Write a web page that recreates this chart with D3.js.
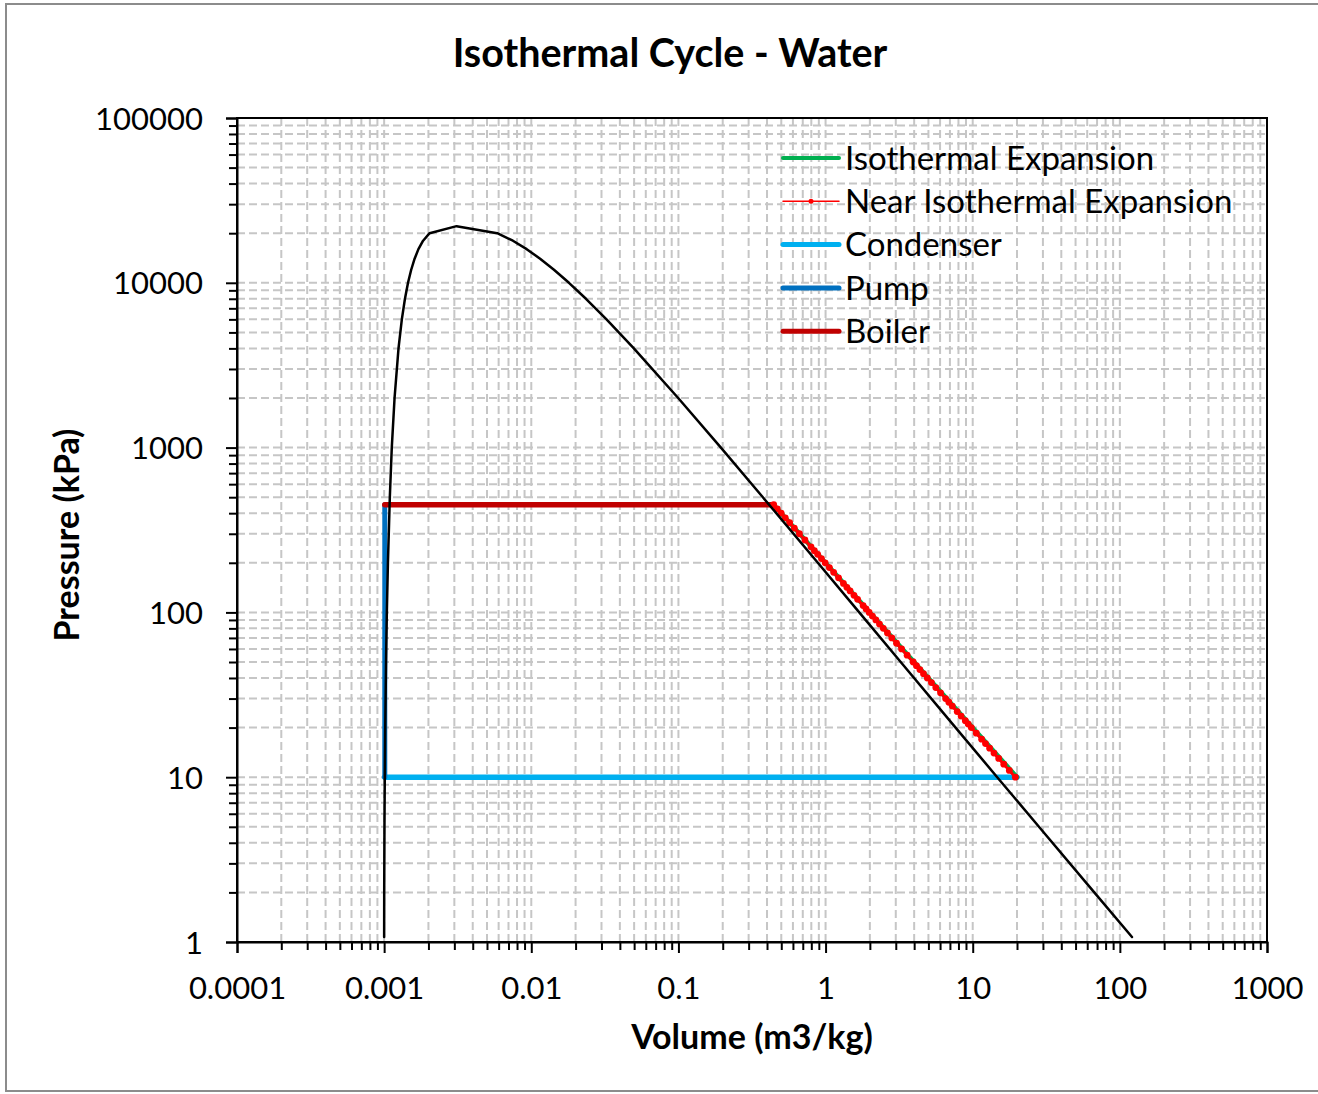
<!DOCTYPE html>
<html>
<head>
<meta charset="utf-8">
<script src="https://cdn.jsdelivr.net/npm/d3@7"></script>
<style>
  html, body { margin: 0; padding: 0; background: #fff; }
  svg { display: block; }
  text { font-family: Lato, "Liberation Sans", sans-serif; fill: #000; }
</style>
</head>
<body>
<svg id="chart" width="1318" height="1094"></svg>
<script>
// ---- Saturation dome of water (pressure table) ----
const satP  = [1.073, 2, 5, 10, 20, 50, 100, 200, 500, 1000, 2000, 4000, 6000, 8000, 10000, 12000, 14000, 16000, 18000, 20000];
const satVf = [0.001000, 0.001001, 0.001005, 0.001010, 0.001017, 0.001030, 0.001043, 0.001061, 0.001093, 0.001127,
               0.001177, 0.001252, 0.001319, 0.001385, 0.001453, 0.001527, 0.001611, 0.001710, 0.001840, 0.002038];
const satVg = [120.9, 66.99, 28.19, 14.67, 7.649, 3.240, 1.694, 0.8858, 0.3748, 0.1944,
               0.09959, 0.04978, 0.03245, 0.02353, 0.01803, 0.01426, 0.01148, 0.00931, 0.007499, 0.005862];
const critP = 22064;
const critV = 0.003106;

// ---- Cycle legs ----
const isoV = [0.444, 20];
const isoP = [450, 10];

const nearIsoP = [450, 425, 400, 375, 350, 325, 300, 275, 250, 237, 225, 212, 200, 187, 175, 162, 150, 142, 135, 127,
                  120, 110, 105, 100, 95, 90, 85, 80, 75, 70, 65, 60, 55, 50, 47.5, 45, 42.5, 40, 37.5, 35,
                  32.5, 30, 28.5, 27, 25, 23.5, 22, 21, 20, 18.5, 17, 16, 15, 14, 13, 12, 11, 10];
const nearIsoV = [0.444, 0.470, 0.4991, 0.5322, 0.5699, 0.6135, 0.6642, 0.7242, 0.7961, 0.8395, 0.8840, 0.9378, 0.9937,
                  1.062, 1.135, 1.225, 1.3225, 1.396, 1.468, 1.560,
                  1.651, 1.800, 1.885, 1.979, 2.082, 2.197, 2.325, 2.469, 2.633, 2.820, 3.035, 3.286, 3.584, 3.939,
                  4.145, 4.374, 4.629, 4.916, 5.242, 5.614,
                  6.043, 6.543, 6.885, 7.265, 7.842, 8.340, 8.905, 9.326, 9.788, 10.58, 11.50, 12.22, 13.03, 13.95,
                  15.02, 16.26, 17.73, 19.49];

const condV = [20, 0.00101];
const condP = [10, 10];

const pumpV = [0.00101, 0.00101];
const pumpP = [10, 450];

const boilerV = [0.00101, 0.444];
const boilerP = [450, 450];

// ---- Axes ----
const xMajor = [1e-4, 1e-3, 1e-2, 1e-1, 1, 10, 100, 1000];
const xTickLabels = ["0.0001", "0.001", "0.01", "0.1", "1", "10", "100", "1000"];
const yMajor = [1, 10, 100, 1000, 10000, 100000];
const yTickLabels = ["1", "10", "100", "1000", "10000", "100000"];
const minorSteps = [2, 3, 4, 5, 6, 7, 8, 9];

const legendItems = [
  { name: "Isothermal Expansion", color: "#00B050", width: 4, marker: false },
  { name: "Near Isothermal Expansion", color: "#FF0000", width: 1.5, marker: true },
  { name: "Condenser", color: "#00B0F0", width: 5, marker: false },
  { name: "Pump", color: "#0070C0", width: 5, marker: false },
  { name: "Boiler", color: "#C00000", width: 5, marker: false }
];

const svg = d3.select("#chart");
const L = 237, R = 1267, T = 118, B = 942;

const x = d3.scaleLog().domain([1e-4, 1e3]).range([L, R]);
const y = d3.scaleLog().domain([1, 1e5]).range([B, T]);

const minorOf = majors => {
  const out = [];
  majors.slice(0, -1).forEach(m => minorSteps.forEach(s => out.push(m * s)));
  return out;
};
const xMinor = minorOf(xMajor);
const yMinor = minorOf(yMajor);

// outer chart frame
svg.append("rect")
  .attr("x", 6).attr("y", 4).attr("width", 1330).attr("height", 1087)
  .attr("fill", "#fff").attr("stroke", "#8c8c8c").attr("stroke-width", 2);

// gridlines (major + minor, dashed)
const grid = svg.append("g").attr("stroke", "#c6c6c6").attr("stroke-width", 2)
  .attr("stroke-dasharray", "8,4").attr("fill", "none");
xMajor.concat(xMinor).forEach(v => {
  grid.append("line").attr("x1", x(v)).attr("x2", x(v)).attr("y1", T).attr("y2", B);
});
yMajor.concat(yMinor).forEach(v => {
  grid.append("line").attr("x1", L).attr("x2", R).attr("y1", y(v)).attr("y2", y(v));
});

// plot box
svg.append("rect")
  .attr("x", L).attr("y", T).attr("width", R - L).attr("height", B - T)
  .attr("fill", "none").attr("stroke", "#000").attr("stroke-width", 2);

const tickFont = "Lato, 'Liberation Sans', sans-serif";

// x axis
const xAxisMinor = d3.axisBottom(x).tickValues(xMinor).tickSize(8).tickFormat("");
const xAxis = d3.axisBottom(x).tickValues(xMajor).tickSize(11)
  .tickFormat((d, i) => xTickLabels[i]);
svg.append("g").attr("transform", `translate(0,${B})`).call(xAxisMinor)
  .call(g => g.select(".domain").remove())
  .call(g => g.selectAll("line").attr("stroke", "#000").attr("stroke-width", 2));
const gx = svg.append("g").attr("transform", `translate(0,${B})`).call(xAxis);
gx.select(".domain").attr("stroke", "#000").attr("stroke-width", 2);
gx.selectAll("line").attr("stroke", "#000").attr("stroke-width", 2);
gx.selectAll("text").attr("y", 57).attr("dy", null)
  .style("font-size", "31px").style("font-family", tickFont).attr("fill", "#000");

// y axis
const yAxisMinor = d3.axisLeft(y).tickValues(yMinor).tickSize(8).tickFormat("");
const yAxis = d3.axisLeft(y).tickValues(yMajor).tickSize(11)
  .tickFormat((d, i) => yTickLabels[i]);
svg.append("g").attr("transform", `translate(${L},0)`).call(yAxisMinor)
  .call(g => g.select(".domain").remove())
  .call(g => g.selectAll("line").attr("stroke", "#000").attr("stroke-width", 2));
const gy = svg.append("g").attr("transform", `translate(${L},0)`).call(yAxis);
gy.select(".domain").attr("stroke", "#000").attr("stroke-width", 2);
gy.selectAll("line").attr("stroke", "#000").attr("stroke-width", 2);
gy.selectAll("text").attr("x", -34).attr("dy", "0.36em")
  .style("font-size", "31px").style("font-family", tickFont).attr("fill", "#000");

// series
const line = d3.line().x(d => x(d[0])).y(d => y(d[1]));
const zipPts = (vs, ps) => vs.map((v, i) => [v, ps[i]]);

function drawLine(pts, color, width) {
  svg.append("path").datum(pts)
    .attr("d", line)
    .attr("fill", "none")
    .attr("stroke", color)
    .attr("stroke-width", width)
    .attr("stroke-linecap", "round")
    .attr("stroke-linejoin", "round");
}

drawLine(zipPts(condV, condP), "#00B0F0", 5.5);
drawLine(zipPts(pumpV, pumpP), "#0070C0", 5);
drawLine(zipPts(boilerV, boilerP), "#C00000", 5.5);
drawLine(zipPts(isoV, isoP), "#00B050", 4.5);

const nearPts = zipPts(nearIsoV, nearIsoP);
drawLine(nearPts, "#FF0000", 3);
svg.append("g").selectAll("circle").data(nearPts).join("circle")
  .attr("cx", d => x(d[0])).attr("cy", d => y(d[1])).attr("r", 3.4)
  .attr("fill", "#FF0000");

// saturation dome: liquid side up to the critical point, then vapour side down
const dome = zipPts(satVf, satP)
  .concat([[critV, critP]])
  .concat(zipPts(satVg, satP).reverse());
drawLine(dome, "#000", 2.5);

// legend
const leg = svg.append("g");
legendItems.forEach((it, i) => {
  const cy = 158 + i * 43.3;
  leg.append("line").attr("x1", 783).attr("x2", 839).attr("y1", cy).attr("y2", cy)
    .attr("stroke", it.color).attr("stroke-width", it.width).attr("stroke-linecap", "round");
  if (it.marker) {
    leg.append("circle").attr("cx", 811).attr("cy", cy).attr("r", 2.5).attr("fill", it.color);
  }
  leg.append("text").attr("x", 845).attr("y", cy).attr("dy", "0.36em")
    .style("font-size", "33px").text(it.name);
});

// titles
svg.append("text").attr("x", 670).attr("y", 67).attr("text-anchor", "middle")
  .style("font-size", "39.5px").style("font-weight", "bold").text("Isothermal Cycle - Water");
svg.append("text").attr("x", 752).attr("y", 1049).attr("text-anchor", "middle")
  .style("font-size", "34px").style("font-weight", "bold").text("Volume (m3/kg)");
svg.append("text").attr("transform", "translate(79,535) rotate(-90)").attr("text-anchor", "middle")
  .style("font-size", "34px").style("font-weight", "bold").text("Pressure (kPa)");
</script>
</body>
</html>
